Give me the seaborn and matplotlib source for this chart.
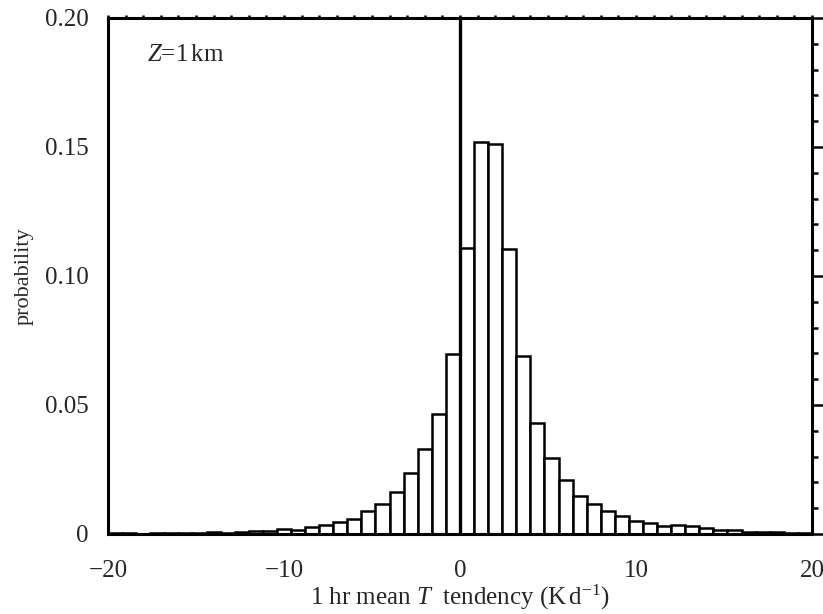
import numpy as np
import pandas as pd
import matplotlib
matplotlib.use("Agg")
import matplotlib.pyplot as plt
from matplotlib.ticker import MultipleLocator, FuncFormatter
import seaborn as sns

# Bin edges: -20 to 20 in steps of 0.8 K/d
bin_width = 0.8
bin_edges = np.round(np.arange(-20, 20 + 1e-9, bin_width), 2)
bin_centers = (bin_edges[:-1] + bin_edges[1:]) / 2

# Probability per bin (left to right)
prob_negative = [0.0003, 0.0003, 0.0001, 0.0002, 0.0002, 0.0002, 0.0004, 0.0006,
                 0.0004, 0.0006, 0.0010, 0.0010, 0.0021, 0.0014, 0.0026, 0.0036,
                 0.0045, 0.0058, 0.0091, 0.0117, 0.0162, 0.0237, 0.0328, 0.0467,
                 0.0698]
prob_positive = [0.1109, 0.1521, 0.1512, 0.1106, 0.0689, 0.0432, 0.0296, 0.0211,
                 0.0149, 0.0117, 0.0088, 0.0071, 0.0049, 0.0043, 0.0030, 0.0036,
                 0.0030, 0.0023, 0.0014, 0.0014, 0.0008, 0.0008, 0.0008, 0.0004,
                 0.0004]

df = pd.DataFrame({"tendency": bin_centers,
                   "probability": prob_negative + prob_positive})

sns.set_theme(style="white")
plt.rcParams["font.family"] = ["Liberation Serif", "DejaVu Serif"]
plt.rcParams["mathtext.fontset"] = "custom"
plt.rcParams["mathtext.rm"] = "Liberation Serif"
plt.rcParams["mathtext.it"] = "Liberation Serif:italic"

fig = plt.figure(figsize=(8.23, 6.14), dpi=100)
ax = fig.add_axes([0.1312, 0.1303, 0.8554, 0.8404])

sns.histplot(data=df, x="tendency", weights="probability",
             binwidth=bin_width, binrange=(-20, 20),
             stat="count", color="white", edgecolor="black", linewidth=1.8,
             alpha=1, ax=ax)

ax.axvline(0, color="black", linewidth=2.4, zorder=5)

ax.set_xlim(-20, 20)
ax.set_ylim(0, 0.2)

ax.xaxis.set_major_locator(MultipleLocator(10))
ax.xaxis.set_minor_locator(MultipleLocator(1))
ax.yaxis.set_major_locator(MultipleLocator(0.05))
ax.yaxis.set_minor_locator(MultipleLocator(0.01))
ax.yaxis.set_major_formatter(FuncFormatter(lambda v, p: "0" if abs(v) < 1e-9 else f"{v:.2f}"))

for s in ax.spines.values():
    s.set_linewidth(2.2)
    s.set_color("black")

ax.tick_params(which="both", direction="out", color="black", width=1.8,
               top=True, right=True, labelsize=18)
# left / right ticks
ax.tick_params(which="major", axis="y", length=8, pad=6)
ax.tick_params(which="minor", axis="y", length=4)
# bottom ticks
ax.tick_params(which="major", axis="x", length=7, pad=12)
ax.tick_params(which="minor", axis="x", length=4)

# top ticks are tiny marks on the spine
for t in ax.xaxis.get_major_ticks() + ax.xaxis.get_minor_ticks():
    t.tick2line.set_markersize(2.5)

ax.set_xlabel(r"1 hr mean $T$  tendency (K$\,$d$^{-1}$)", fontsize=18, labelpad=0)
ax.set_ylabel("probability", fontsize=16, labelpad=8)

ax.text(0.055, 0.928, r"$Z$=1$\,$km", transform=ax.transAxes, fontsize=18,
        ha="left", va="center")

fig.savefig("out.png", dpi=100, facecolor="white")
